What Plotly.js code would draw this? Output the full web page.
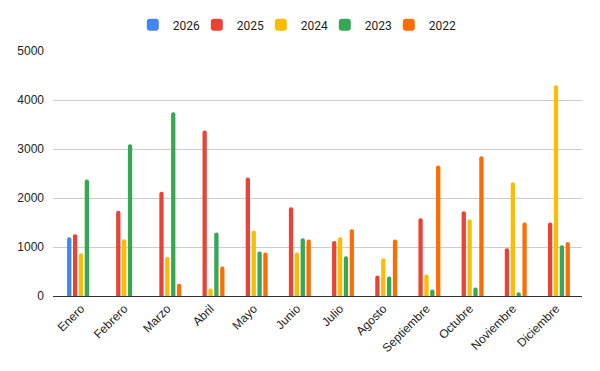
<!DOCTYPE html>
<html>
<head>
<meta charset="utf-8">
<script src="https://cdn.plot.ly/plotly-3.0.1.min.js"></script>
<style>html,body{margin:0;padding:0;background:#fff;}#chart{width:600px;height:371px;}</style>
</head>
<body>
<div id="chart"></div>
<script>
const months = ["Enero","Febrero","Marzo","Abril","Mayo","Junio","Julio","Agosto","Septiembre","Octubre","Noviembre","Diciembre"];
const seriesNames = ["2026","2025","2024","2023","2022"];
const seriesColors = ["#4285F4","#EA4335","#FBBC04","#34A853","#FF6D01"];
const y2026 = [1200,null,null,null,null,null,null,null,null,null,null,null];
const y2025 = [1260,1740,2130,3380,2420,1810,1120,420,1585,1730,975,1500];
const y2024 = [870,1160,800,155,1335,890,1200,770,440,1565,2320,4300];
const y2023 = [2380,3095,3750,1295,910,1180,810,400,135,175,75,1035];
const y2022 = [null,null,250,600,890,1155,1360,1155,2665,2850,1500,1100];
const allSeries = [y2026,y2025,y2024,y2023,y2022];

const traces = allSeries.map((ys,i)=>({
  type:"bar", x:months, y:ys, name:seriesNames[i],
  marker:{color:seriesColors[i], cornerradius:2},
  hoverinfo:"none"
}));

const layout = {
  width:600, height:371,
  margin:{l:53,r:18,t:51,b:75},
  paper_bgcolor:"#fff", plot_bgcolor:"#fff",
  font:{family:"Roboto, Arial, sans-serif", size:12, color:"#222"},
  barmode:"group", bargap:0.32, bargroupgap:0.27,
  showlegend:true,
  legend:{orientation:"h", x:0.488, xref:"container", xanchor:"center", y:0.933, yref:"container", yanchor:"middle",
          font:{size:12,color:"#222"}, itemwidth:30, entrywidth:19, traceorder:"normal"},
  xaxis:{tickangle:-45, showgrid:false, showline:true, linecolor:"#333", linewidth:1,
         range:[-0.648, 11.602],
         ticks:"", tickfont:{family:"Liberation Sans, Arial, sans-serif", size:12,color:"#222"}},
  yaxis:{range:[0,5000], tickvals:[0,1000,2000,3000,4000,5000], showgrid:true, gridcolor:"#ccc",
         zeroline:true, zerolinecolor:"#333", zerolinewidth:1, ticks:"",
         tickfont:{family:"Liberation Sans, Arial, sans-serif", size:12,color:"#222"},
         ticklabelstandoff:8}
};
Plotly.newPlot("chart", traces, layout, {displayModeBar:false, staticPlot:true}).then(gd=>{
  gd.querySelectorAll('.legend .scrollbox, .legend').forEach(el=>el.removeAttribute('clip-path'));
});
</script>
</body>
</html>
